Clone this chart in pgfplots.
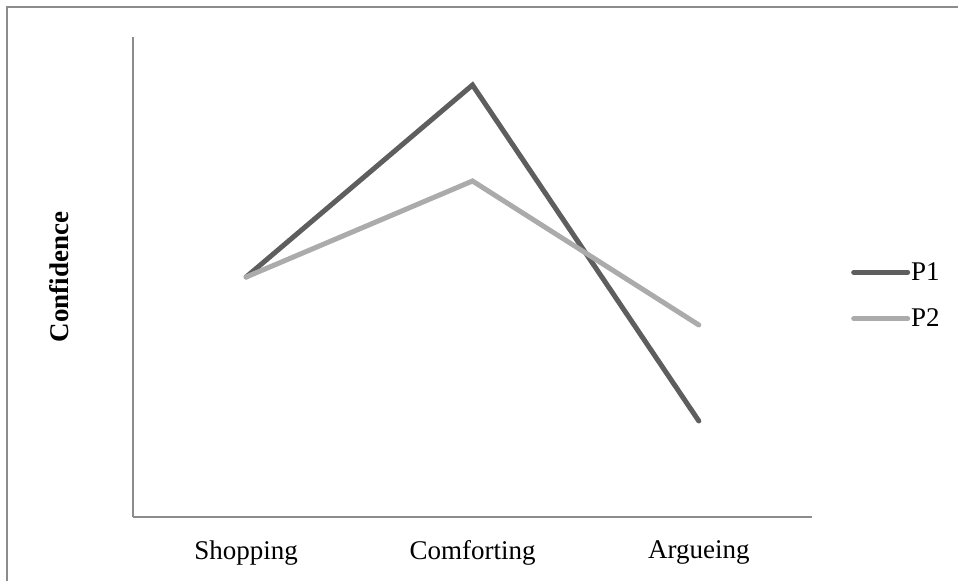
\documentclass[border=0pt]{standalone}
\usepackage{pgfplots}
\pgfplotsset{compat=1.18}
\usepackage{fontspec}
\setmainfont{Liberation Serif}
\definecolor{pone}{HTML}{5E5E5E}
\definecolor{ptwo}{HTML}{ABABAB}
\definecolor{axgray}{HTML}{8C8C8C}
\begin{document}
\begin{tikzpicture}[x=1pt,y=1pt]
\useasboundingbox (0,0) rectangle (958,-581);
\draw[axgray, line width=2.2pt] (7,-581) -- (7,-7) -- (958,-7);
\begin{axis}[
  at={(133pt,-517pt)}, anchor=south west,
  scale only axis, width=679pt, height=480pt,
  xmin=-0.5, xmax=2.5, ymin=0, ymax=10,
  axis x line=bottom, axis y line=left,
  axis line style={axgray, line width=2pt, -},
  xtick={0,1,2}, xticklabels={Shopping,Comforting,Argueing},
  ytick=\empty,
  major tick length=0pt,
  tick label style={font=\fontsize{27}{30}\selectfont},
  xticklabel style={yshift=-20pt},
  ylabel={\textbf{Confidence}},
  ylabel style={font=\fontsize{27}{30}\selectfont, at={(-0.09,0.5)}},
  clip=false,
  legend style={draw=none, fill=none, at={(1.0574,0.4615)}, anchor=west,
    font=\fontsize{27}{30}\selectfont, inner sep=0pt, row sep=25pt,
    nodes={inner sep=1pt}},
  legend cell align=left,
  legend image code/.code={\draw[#1] (0pt,0pt) -- (54pt,0pt);},
]
\addplot[pone, line width=5pt, line cap=round, line join=miter] coordinates {(0,5) (1,9) (2,2)};
\addlegendentry{P1}
\addplot[ptwo, line width=5pt, line cap=round, line join=miter] coordinates {(0,5) (1,7) (2,4)};
\addlegendentry{P2}
\end{axis}
\end{tikzpicture}
\end{document}
